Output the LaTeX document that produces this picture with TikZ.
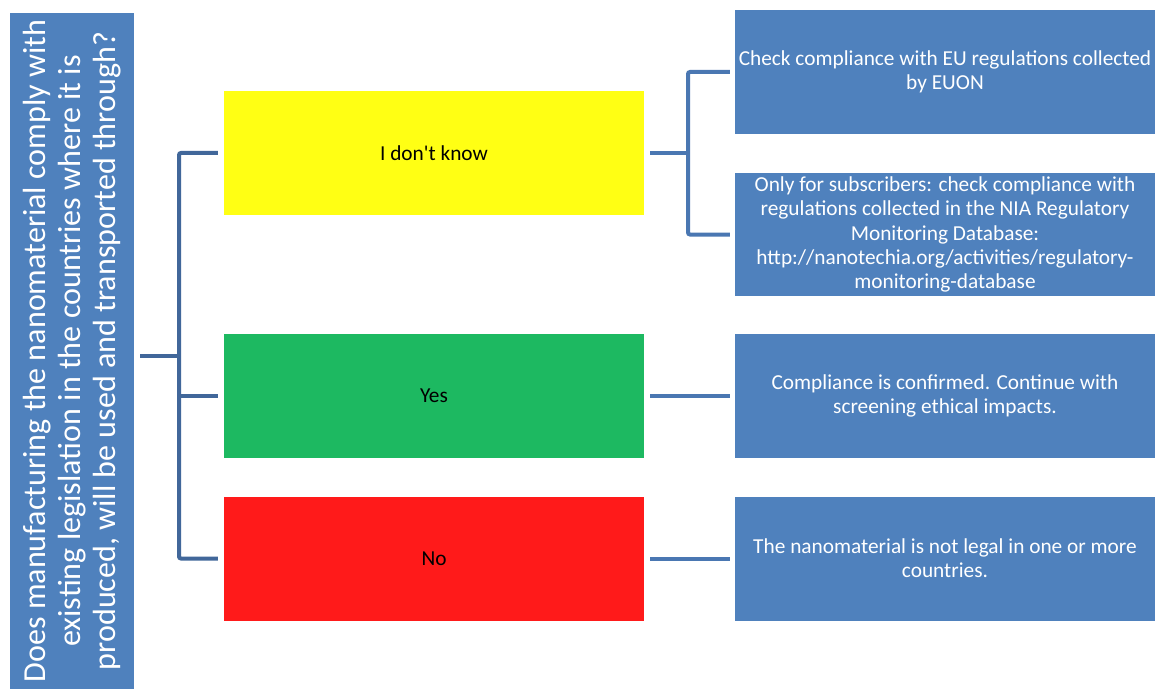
\documentclass[tikz,border=0pt]{standalone}
\usepackage{fontspec}
\setmainfont{Carlito}
\definecolor{boxblue}{HTML}{4F81BD}
\definecolor{connA}{HTML}{41679A}
\definecolor{connB}{HTML}{4A77B2}
\definecolor{yel}{HTML}{FFFF14}
\definecolor{grn}{HTML}{1DB961}
\definecolor{rd}{HTML}{FF1A1A}
\tikzset{
  box/.style={rectangle, draw=none, minimum width=420bp, minimum height=124bp, inner sep=2bp, align=center, font=\fontsize{21.4}{24.4}\selectfont},
  choice/.style={box, text=black},
  answer/.style={box, fill=boxblue, text=white},
  conn/.style={line width=4bp, rounded corners=2bp},
}
\begin{document}
\begin{tikzpicture}[x=1bp,y=-1bp]
\useasboundingbox (0,0) rectangle (1155,690);
\fill[white] (0,0) rectangle (1155,690);
\node[rectangle, fill=boxblue, text=white, rotate=90, minimum width=676bp, minimum height=124bp, inner sep=0pt, align=center, font=\fontsize{32.2}{35}\selectfont] (q) at (72,351)
  {Does manufacturing the nanomaterial comply with\\ existing legislation in the countries where it is\\ produced, will be used and transported through?};
\node[choice, fill=yel] (idk) at (434,153) {I don\textquotesingle t know};
\node[choice, fill=grn] (yes) at (434,396) {Yes};
\node[choice, fill=rd] (no) at (434,558.5) {No};
\node[answer, minimum height=123bp] (a1) at (945,72) {Check compliance with EU regulations collected\\ by EUON};
\node[answer, minimum height=123bp] (a2) at (945,234.5) {Only for subscribers: check compliance with\\ regulations collected in the NIA Regulatory\\ Monitoring Database:\\ http://nanotechia.org/activities/regulatory-\\ monitoring-database};
\node[answer] (a3) at (945,396) {Compliance is confirmed. Continue with\\ screening ethical impacts.};
\node[answer] (a4) at (945,558.5) {The nanomaterial is not legal in one or more\\ countries.};
\coordinate (j1) at (179,356);
\coordinate (j2) at (688,153);
\draw[conn, connA] (q.south |- j1) ++(6,0) -- (j1);
\draw[conn, connA] ([xshift=-6bp]idk.west) -| (j1) |- ([xshift=-6bp]no.west);
\draw[conn, connA] (j1 |- yes.west) -- ([xshift=-6bp]yes.west);
\draw[conn, connB] ([xshift=6bp]idk.east) -- (j2);
\draw[conn, connB] ([xshift=-5bp]a1.west) -| (j2) |- ([xshift=-5bp]a2.west);
\draw[conn, connB] ([xshift=6bp]yes.east) -- ([xshift=-5bp]a3.west);
\draw[conn, connB] ([xshift=6bp]no.east) -- ([xshift=-5bp]a4.west);
\end{tikzpicture}
\end{document}
